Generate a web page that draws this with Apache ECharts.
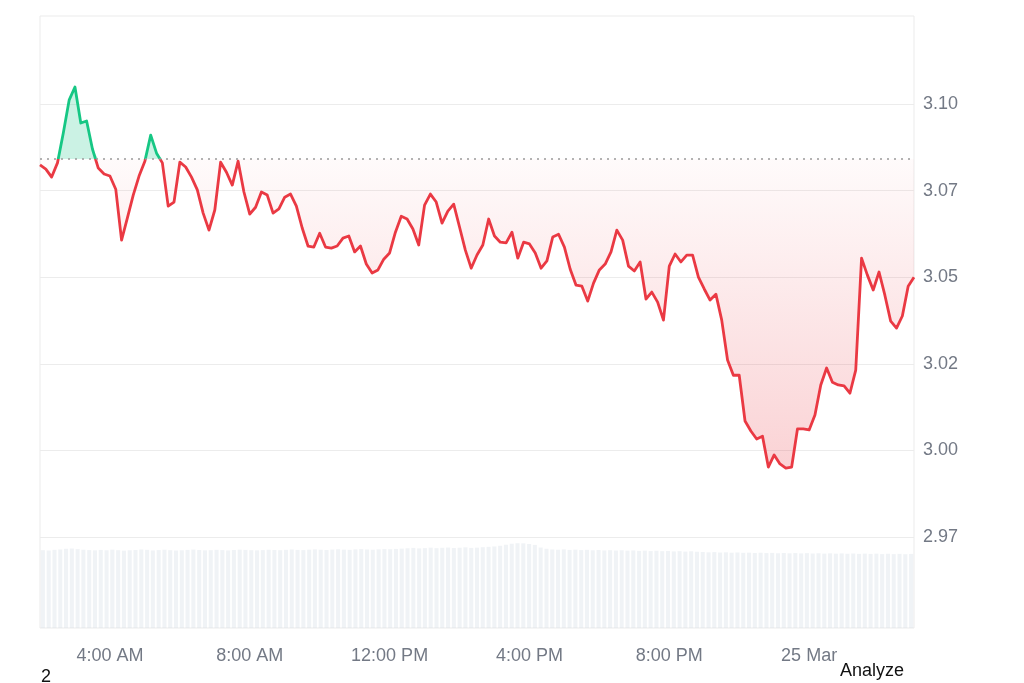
<!DOCTYPE html>
<html>
<head>
<meta charset="utf-8">
<script src="https://cdn.jsdelivr.net/npm/echarts@6/dist/echarts.min.js"></script>
<style>
html,body{margin:0;padding:0;background:#ffffff;}
#chart{width:1024px;height:683px;}
</style>
</head>
<body>
<div id="chart"></div>
<script>
// ---- data ----
const startTime = Date.UTC(2025, 2, 24, 2, 0); // 24 Mar, 02:00
const stepMinutes = 10;

const prices = [
  3.0824, 3.0812, 3.0789, 3.0830, 3.0916, 3.1011, 3.1049, 3.0945, 3.0951, 3.0870,
  3.0815, 3.0798, 3.0792, 3.0754, 3.0607, 3.0671, 3.0737, 3.0792, 3.0835, 3.0910,
  3.0858, 3.0830, 3.0705, 3.0717, 3.0832, 3.0818, 3.0789, 3.0752, 3.0685, 3.0636,
  3.0694, 3.0832, 3.0803, 3.0766, 3.0835, 3.0746, 3.0682, 3.0702, 3.0746, 3.0737,
  3.0685, 3.0697, 3.0731, 3.0740, 3.0705, 3.0642, 3.0590, 3.0587, 3.0627, 3.0587,
  3.0584, 3.0590, 3.0613, 3.0619, 3.0573, 3.0590, 3.0538, 3.0512, 3.0521, 3.0552,
  3.0570, 3.0630, 3.0676, 3.0668, 3.0639, 3.0593, 3.0708, 3.0740, 3.0717, 3.0656,
  3.0691, 3.0711, 3.0645, 3.0578, 3.0526, 3.0564, 3.0593, 3.0668, 3.0619, 3.0601,
  3.0599, 3.0630, 3.0555, 3.0601, 3.0596, 3.0570, 3.0526, 3.0547, 3.0616, 3.0624,
  3.0587, 3.0523, 3.0477, 3.0474, 3.0431, 3.0483, 3.0521, 3.0538, 3.0573, 3.0636,
  3.0607, 3.0532, 3.0518, 3.0544, 3.0437, 3.0457, 3.0428, 3.0376, 3.0532, 3.0567,
  3.0544, 3.0564, 3.0564, 3.0500, 3.0466, 3.0434, 3.0451, 3.0376, 3.0261, 3.0217,
  3.0217, 3.0085, 3.0056, 3.0033, 3.0041, 2.9952, 2.9987, 2.9961, 2.9949, 2.9952,
  3.0062, 3.0062, 3.0059, 3.0102, 3.0189, 3.0238, 3.0197, 3.0189, 3.0186, 3.0165,
  3.0232, 3.0555, 3.0506, 3.0463, 3.0515, 3.0448, 3.0373, 3.0353, 3.0388, 3.0474,
  3.0500
];

const volumes = [
  89.0, 88.6, 89.4, 89.8, 90.6, 90.9, 90.2, 89.5, 89.1, 88.8,
  89.3, 88.9, 89.6, 89.0, 88.4, 88.9, 89.2, 89.8, 89.4, 88.7,
  89.1, 89.5, 89.0, 88.6, 88.9, 89.3, 89.7, 89.2, 88.8, 89.0,
  89.4, 89.1, 88.7, 89.2, 89.6, 89.3, 89.0, 88.8, 89.1, 89.5,
  89.2, 89.0, 89.4, 89.8, 89.3, 89.1, 89.6, 89.9, 89.5, 89.2,
  89.7, 90.1, 89.6, 89.4, 89.9, 90.2, 89.8, 89.5, 90.0, 90.3,
  90.1, 90.4,
  90.8, 91.2, 91.6, 91.0, 91.4, 91.9, 91.3, 91.7, 92.0, 91.5,
  91.8, 92.3, 91.6, 91.9, 92.4, 92.8, 93.3, 94.0, 95.2,
  96.4, 97.0, 96.8, 96.1, 95.0,
  92.0, 90.6, 89.8, 89.5, 89.9, 89.3, 89.6, 89.1, 89.4, 88.9,
  89.2, 88.7, 89.0, 88.6, 88.9, 88.4, 88.7, 88.2, 88.5, 88.0,
  88.3, 87.9, 88.1, 87.6, 87.9, 87.4, 87.7, 87.2,
  86.9, 86.5, 86.8, 86.3, 86.6, 86.1, 86.4, 86.0, 86.2, 85.8,
  86.1, 85.7, 85.9, 85.5, 85.8, 85.4, 85.7, 85.3, 85.6, 85.2,
  85.5, 85.1, 85.4, 85.0, 85.3, 84.9, 85.2, 84.8, 85.1, 84.7,
  85.0, 84.6, 84.9, 84.5, 84.8, 84.4, 84.7
];

const baselinePrice = 3.0841;

const tickCategories = ['2025-03-24 04:00', '2025-03-24 08:00', '2025-03-24 12:00',
                        '2025-03-24 16:00', '2025-03-24 20:00', '2025-03-25 00:00'];
const tickLabels = ['4:00 AM', '8:00 AM', '12:00 PM', '4:00 PM', '8:00 PM', '25 Mar'];

const yMin = 2.95, yMax = 3.125, yStep = 0.025;

// ---- build ----
const categories = prices.map(function (_, i) {
  const d = new Date(startTime + i * stepMinutes * 60000);
  return d.toISOString().slice(0, 16).replace('T', ' ');
});

const FONT = '"Liberation Sans", Arial, Helvetica, sans-serif';
const AXIS_COLOR = '#737985';
const RED = '#ea3943';
const GREEN = '#16c784';

const chart = echarts.init(document.getElementById('chart'), null, { renderer: 'canvas' });

chart.setOption({
  animation: false,
  backgroundColor: '#ffffff',
  textStyle: { fontFamily: FONT },
  grid: [
    { left: 40, right: 110, top: 17.4, bottom: 59.4 },
    { left: 40, right: 110, top: 16, bottom: 55, show: true, borderColor: '#ebebeb', borderWidth: 1, backgroundColor: 'transparent' }
  ],
  xAxis: [
    {
      gridIndex: 0, type: 'category', data: categories, boundaryGap: false,
      axisLine: { show: false }, axisTick: { show: false }, splitLine: { show: false },
      axisLabel: {
        interval: function (idx, val) { return tickCategories.indexOf(val) >= 0; },
        formatter: function (val) { const k = tickCategories.indexOf(val); return k >= 0 ? tickLabels[k] : ''; },
        margin: 23, fontSize: 18, color: AXIS_COLOR, fontFamily: FONT
      }
    },
    { gridIndex: 1, type: 'category', data: categories, boundaryGap: true, show: false }
  ],
  yAxis: [
    {
      gridIndex: 0, type: 'value', position: 'right', min: yMin, max: yMax, interval: yStep,
      axisLine: { show: false }, axisTick: { show: false },
      splitLine: { show: true, showMinLine: false, showMaxLine: false, lineStyle: { color: '#ececec', width: 1 } },
      axisLabel: {
        margin: 9, fontSize: 18, color: AXIS_COLOR, fontFamily: FONT,
        showMinLabel: false, showMaxLabel: false,
        formatter: function (v) {
          if (v <= yMin + 1e-9 || v >= yMax - 1e-9) return '';
          return (Math.floor(v * 100 + 1e-6) / 100).toFixed(2);
        }
      }
    },
    { gridIndex: 1, type: 'value', min: 0, max: 700, show: false }
  ],
  visualMap: {
    type: 'piecewise', show: false, dimension: 1, seriesIndex: 3,
    pieces: [ { gt: baselinePrice, lte: yMax, color: GREEN }, { gte: yMin, lte: baselinePrice, color: RED } ]
  },
  series: [
    {
      type: 'bar', xAxisIndex: 1, yAxisIndex: 1, data: volumes, silent: true,
      barCategoryGap: '30%', itemStyle: { color: 'rgba(205,216,226,0.3)' }, z: 1
    },
    {
      type: 'line', xAxisIndex: 0, yAxisIndex: 0, silent: true,
      data: prices.map(function (v) { return Math.min(v, baselinePrice); }),
      showSymbol: false, lineStyle: { width: 0, opacity: 0 },
      areaStyle: {
        origin: baselinePrice,
        color: new echarts.graphic.LinearGradient(0, 0, 0, 1, [
          { offset: 0, color: 'rgba(234,57,67,0.03)' },
          { offset: 1, color: 'rgba(234,57,67,0.32)' }
        ])
      },
      z: 2
    },
    {
      type: 'line', xAxisIndex: 0, yAxisIndex: 0, silent: true,
      data: prices.map(function (v) { return Math.max(v, baselinePrice); }),
      showSymbol: false, lineStyle: { width: 0, opacity: 0 },
      areaStyle: { origin: baselinePrice, color: 'rgba(22,199,132,0.32)' },
      z: 2
    },
    {
      type: 'line', xAxisIndex: 0, yAxisIndex: 0, data: prices,
      showSymbol: false, lineStyle: { width: 2.8, join: 'round' }, z: 3,
      markLine: {
        silent: true, precision: 4, symbol: ['none', 'none'], label: { show: false },
        lineStyle: { color: '#9a9a9a', type: [2, 5], width: 1.5 },
        data: [ { yAxis: baselinePrice } ]
      }
    }
  ],
  graphic: [
    { type: 'text', left: 41, top: 668, style: { text: '2', fontSize: 18, fill: '#111111', fontFamily: FONT } },
    { type: 'text', left: 840, top: 662, style: { text: 'Analyze', fontSize: 18, fill: '#111111', fontFamily: FONT } }
  ]
});
</script>
</body>
</html>
